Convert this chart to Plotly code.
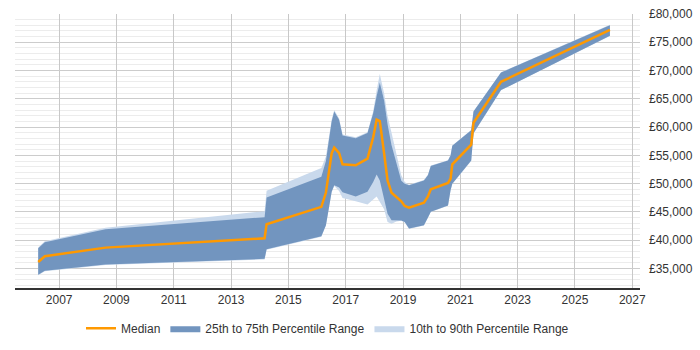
import plotly.graph_objects as go

years = [2006.27, 2006.50, 2008.62, 2014.17, 2014.24, 2016.15, 2016.31, 2016.44, 2016.51, 2016.60,
         2016.77, 2016.89, 2017.35, 2017.76, 2017.96, 2018.08, 2018.19, 2018.34, 2018.46, 2018.60,
         2018.77, 2018.94, 2019.06, 2019.21, 2019.73, 2019.87, 2019.97, 2020.57, 2020.66, 2020.72,
         2021.38, 2021.46, 2022.42, 2026.22]

median = [36150, 37170, 38690, 40340, 42820, 45900, 48430, 52500, 55380, 56400,
          55380, 53410, 53240, 54430, 58200, 61320, 61050, 55380, 50580, 48400,
          47600, 46890, 46040, 45770, 46620, 47740, 49000, 50120, 50870, 53410,
          56910, 60760, 68010, 77180]

p75 = [38570, 39660, 41920, 44070, 47570, 51230, 54000, 58500, 61000, 62750,
       61320, 58500, 58040, 58950, 62460, 65500, 67840, 64720, 60500, 56800,
       53410, 50500, 50000, 49730, 50580, 51500, 53130, 54090, 55000, 56690,
       59460, 62750, 69640, 78030]

p25 = [33890, 34620, 35690, 36710, 38410, 40680, 42650, 46500, 48580, 49730,
       49300, 48500, 47740, 48580, 50290, 51600, 50580, 47460, 44700, 43550,
       43500, 43500, 43200, 42080, 42650, 44000, 45030, 46160, 48880, 50000,
       54090, 58900, 66540, 76160]

p90 = [38700, 39800, 42200, 45140, 48760, 52760, 54800, 58800, 61300, 63020,
       61500, 58700, 58200, 59100, 62800, 66500, 69370, 66000, 62000, 59000,
       55110, 51500, 50300, 49800, 50650, 51600, 53200, 54150, 55100, 56750,
       59500, 62800, 69700, 78100]

p10 = [33800, 34500, 35600, 36600, 38300, 40600, 42600, 46400, 48500, 49600,
       48700, 47460, 46890, 46330, 47180, 47740, 46890, 45480, 43220, 42930,
       43300, 43450, 43150, 42000, 42600, 43950, 45000, 46100, 48800, 49950,
       54000, 58850, 66500, 76100]

x_ticks = list(range(2007, 2028, 2))

fig = go.Figure()

fig.add_trace(go.Scatter(
    x=years + years[::-1], y=p90 + p10[::-1],
    fill="toself", fillcolor="#c9d9ec", line=dict(width=0, color="#c9d9ec"),
    mode="lines", name="10th to 90th Percentile Range", legendrank=3, hoverinfo="skip"))

fig.add_trace(go.Scatter(
    x=years + years[::-1], y=p75 + p25[::-1],
    fill="toself", fillcolor="#7295bf", line=dict(width=0, color="#7295bf"),
    mode="lines", name="25th to 75th Percentile Range", legendrank=2, hoverinfo="skip"))

fig.add_trace(go.Scatter(
    x=years, y=median, mode="lines", line=dict(color="#ff9900", width=2.5),
    name="Median", legendrank=1))

fig.update_layout(
    width=700, height=350,
    margin=dict(l=15, r=57, t=7, b=58),
    plot_bgcolor="white", paper_bgcolor="white",
    font=dict(family="Liberation Sans, Arial, sans-serif", size=12, color="#333333"),
    showlegend=True,
    legend=dict(orientation="h", x=0.5, xanchor="center", y=-0.147, yanchor="middle",
                font=dict(size=12, color="#333333"), traceorder="normal",
                itemwidth=30),
    xaxis=dict(range=[2005.46, 2027.27], tickvals=x_ticks, ticktext=[str(t) for t in x_ticks],
               showgrid=True, gridcolor="#c8c8c8", gridwidth=1,
               showline=True, linecolor="#333333", linewidth=1.5,
               ticks="", zeroline=False),
    yaxis=dict(range=[31550, 80000], side="right", dtick=5000, tick0=0,
               tickprefix="£", tickformat=",d",
               showgrid=True, gridcolor="#cccccc", gridwidth=1,
               minor=dict(dtick=1000, showgrid=True, gridcolor="#ececec", gridwidth=1),
               showline=False, zeroline=False, ticks="", ticklabelstandoff=8),
)

fig.write_html("out.html")
